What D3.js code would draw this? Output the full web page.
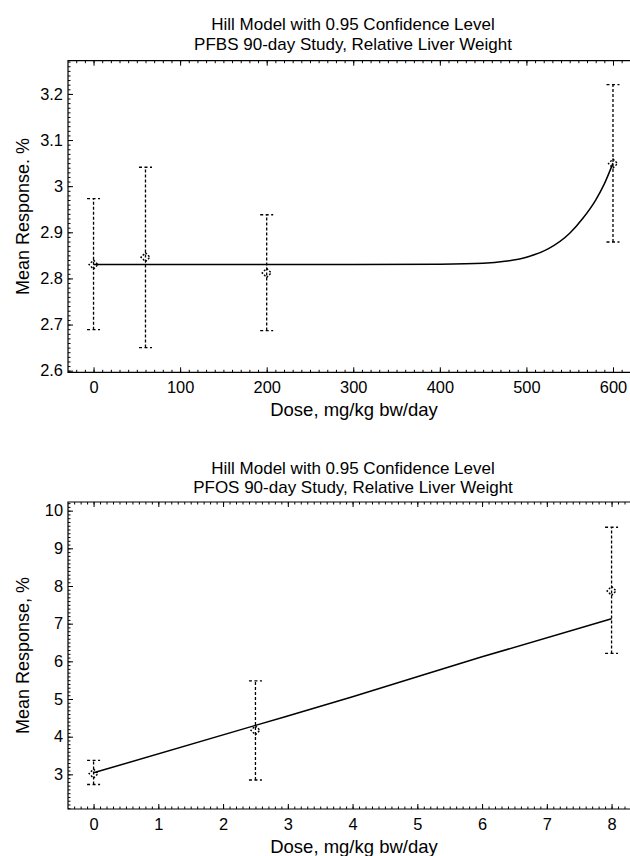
<!DOCTYPE html>
<html>
<head>
<meta charset="utf-8">
<script src="https://cdn.jsdelivr.net/npm/d3@7"></script>
<style>
  body { margin: 0; background: #fff; overflow: hidden; }
  svg { display: block; font-family: "Liberation Sans", Arial, sans-serif; }
</style>
</head>
<body>
<div id="container"></div>
<script>
/* DATA */
// PFBS panel
const pfbsDose = [0, 60, 200, 600];
const pfbsMean = [2.83, 2.846, 2.812, 3.049];
const pfbsLower = [2.689, 2.65, 2.687, 2.879];
const pfbsUpper = [2.973, 3.041, 2.938, 3.22];
const pfbsFitDose = [0, 100, 200, 300, 400, 450, 475, 500, 525, 550, 565, 580, 590, 600];
const pfbsFitResp = [2.83, 2.83, 2.83, 2.83, 2.831, 2.833, 2.837, 2.846, 2.864, 2.898, 2.93, 2.97, 3.005, 3.05];
const pfbsXTicks = [0, 100, 200, 300, 400, 500, 600];
const pfbsYTicks = [2.6, 2.7, 2.8, 2.9, 3, 3.1, 3.2];

// PFOS panel
const pfosDose = [0, 2.5, 8];
const pfosMean = [3.02, 4.17, 7.87];
const pfosLower = [2.73, 2.85, 6.21];
const pfosUpper = [3.37, 5.48, 9.56];
const pfosFitDose = [0, 2.5, 4, 6, 8];
const pfosFitResp = [3.04, 4.3, 5.06, 6.12, 7.13];
const pfosXTicks = [0, 1, 2, 3, 4, 5, 6, 7, 8];
const pfosYTicks = [3, 4, 5, 6, 7, 8, 9, 10];

/* CONSTANTS */
const width = 630, height = 856;

const svg = d3.select("#container")
  .append("svg")
  .attr("width", width)
  .attr("height", height);

function drawPanel(cfg) {
  const x = d3.scaleLinear().domain(cfg.xDomain).range([cfg.left, cfg.right]);
  const y = d3.scaleLinear().domain(cfg.yDomain).range([cfg.bottom, cfg.top]);
  const g = svg.append("g");

  // titles
  cfg.title.forEach((t, i) => {
    g.append("text")
      .attr("x", 353)
      .attr("y", cfg.titleY[i])
      .attr("text-anchor", "middle")
      .style("font-size", "17px")
      .text(t);
  });

  // frame lines (right side falls outside the picture)
  g.append("path")
    .attr("d", `M${cfg.right},${cfg.top}H${cfg.left}V${cfg.bottom}H${cfg.right}`)
    .attr("fill", "none")
    .attr("stroke", "#000")
    .attr("stroke-width", 1.2);

  // minor ticks
  const xMinor = d3.range(Math.ceil(cfg.xDomain[0] / cfg.xMinorStep), Math.floor(cfg.xDomain[1] / cfg.xMinorStep) + 1)
    .map(k => +(k * cfg.xMinorStep).toFixed(4));
  const yMinor = d3.range(Math.ceil(cfg.yDomain[0] / cfg.yMinorStep), Math.floor(cfg.yDomain[1] / cfg.yMinorStep) + 1)
    .map(k => +(k * cfg.yMinorStep).toFixed(4));

  const ax = [
    [d3.axisBottom(x), `translate(0,${cfg.bottom})`, xMinor],
    [d3.axisTop(x), `translate(0,${cfg.top})`, xMinor],
    [d3.axisLeft(y), `translate(${cfg.left},0)`, yMinor]
  ];
  ax.forEach(([axis, tr, minor]) => {
    g.append("g")
      .attr("transform", tr)
      .call(axis.tickValues(minor).tickSize(-2.5).tickSizeOuter(0).tickFormat(""))
      .call(s => s.select(".domain").remove());
  });

  // major ticks + labels
  g.append("g")
    .attr("transform", `translate(0,${cfg.bottom})`)
    .call(d3.axisBottom(x).tickValues(cfg.xTicks).tickSize(-5).tickSizeOuter(0).tickPadding(9).tickFormat(d3.format("")))
    .call(s => s.select(".domain").remove())
    .selectAll("text").style("font-size", "16.4px").attr("fill", "#000");
  g.append("g")
    .attr("transform", `translate(0,${cfg.top})`)
    .call(d3.axisTop(x).tickValues(cfg.xTicks).tickSize(-5).tickSizeOuter(0).tickFormat(""))
    .call(s => s.select(".domain").remove());
  g.append("g")
    .attr("transform", `translate(${cfg.left},0)`)
    .call(d3.axisLeft(y).tickValues(cfg.yTicks).tickSize(-5).tickSizeOuter(0).tickPadding(5).tickFormat(d3.format("")))
    .call(s => s.select(".domain").remove())
    .selectAll("text").style("font-size", "16.4px").attr("fill", "#000");

  g.selectAll(".tick line").attr("stroke", "#000").attr("stroke-width", 1);

  // axis titles
  g.append("text")
    .attr("x", 354)
    .attr("y", cfg.bottom + 44)
    .attr("text-anchor", "middle")
    .style("font-size", "18.5px")
    .text("Dose, mg/kg bw/day");
  g.append("text")
    .attr("transform", "rotate(-90)")
    .attr("x", -(cfg.top + cfg.bottom) / 2)
    .attr("y", 29)
    .attr("text-anchor", "middle")
    .style("font-size", "18px")
    .text(cfg.yLabel);

  // fitted curve
  const pts = cfg.fitDose.map((d, i) => [d, cfg.fitResp[i]]);
  g.append("path")
    .datum(pts)
    .attr("fill", "none")
    .attr("stroke", "#000")
    .attr("stroke-width", 1.5)
    .attr("d", d3.line().x(d => x(d[0])).y(d => y(d[1])).curve(d3.curveMonotoneX));

  // error bars
  const rows = cfg.dose.map((d, i) => ({ d, m: cfg.mean[i], lo: cfg.lower[i], hi: cfg.upper[i] }));
  const bars = g.selectAll("g.bar").data(rows).join("g").attr("class", "bar");
  bars.append("line")
    .attr("x1", r => x(r.d)).attr("x2", r => x(r.d))
    .attr("y1", r => y(r.lo)).attr("y2", r => y(r.hi))
    .attr("stroke", "#000").attr("stroke-width", 1.3).attr("stroke-dasharray", "3,2");
  ["lo", "hi"].forEach(k => {
    bars.append("line")
      .attr("x1", r => x(r.d) - 6.5).attr("x2", r => x(r.d) + 6.5)
      .attr("y1", r => y(r[k])).attr("y2", r => y(r[k]))
      .attr("stroke", "#000").attr("stroke-width", 1.3).attr("stroke-dasharray", "3,2.5");
  });
  // dotted diamond markers
  bars.append("path")
    .attr("d", r => {
      const cx = x(r.d), cy = y(r.m), s = 4.5;
      return `M${cx},${cy - s}L${cx + s},${cy}L${cx},${cy + s}L${cx - s},${cy}Z`;
    })
    .attr("fill", "none").attr("stroke", "#000").attr("stroke-width", 1.4)
    .attr("stroke-dasharray", "2,1.6");
}

drawPanel({
  title: ["Hill Model with 0.95 Confidence Level", "PFBS 90-day Study, Relative Liver Weight"],
  titleY: [30, 50],
  yLabel: "Mean Response. %",
  left: 68, right: 660, top: 60.7, bottom: 372.3,
  xDomain: [-29.5, 654.3], yDomain: [2.5965, 3.272],
  xTicks: pfbsXTicks, yTicks: pfbsYTicks, xMinorStep: 10, yMinorStep: 0.01,
  dose: pfbsDose, mean: pfbsMean, lower: pfbsLower, upper: pfbsUpper,
  fitDose: pfbsFitDose, fitResp: pfbsFitResp
});

drawPanel({
  title: ["Hill Model with 0.95 Confidence Level", "PFOS 90-day Study, Relative Liver Weight"],
  titleY: [474, 493],
  yLabel: "Mean Response, %",
  left: 68, right: 660, top: 502, bottom: 809,
  xDomain: [-0.395, 8.748], yDomain: [2.08, 10.23],
  xTicks: pfosXTicks, yTicks: pfosYTicks, xMinorStep: 0.1, yMinorStep: 0.1,
  dose: pfosDose, mean: pfosMean, lower: pfosLower, upper: pfosUpper,
  fitDose: pfosFitDose, fitResp: pfosFitResp
});
</script>
</body>
</html>
